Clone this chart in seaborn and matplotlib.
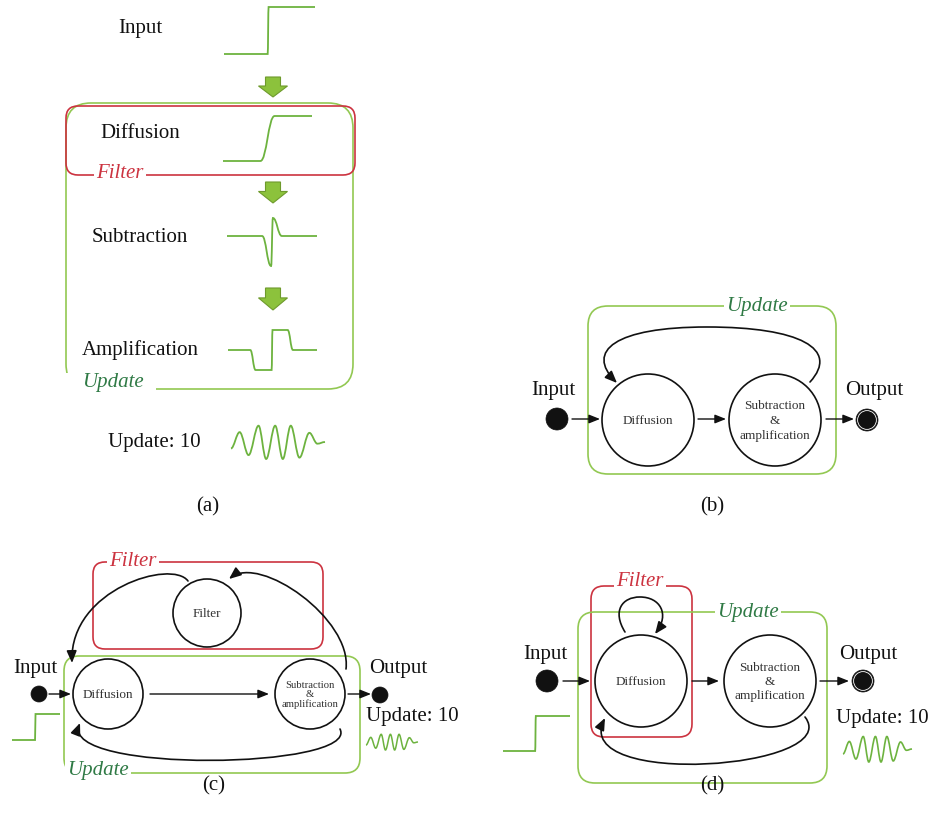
import matplotlib
matplotlib.use("Agg")
import matplotlib.pyplot as plt
import seaborn as sns
from matplotlib.patches import Circle, FancyBboxPatch, FancyArrowPatch, Polygon, PathPatch, Rectangle
from matplotlib.path import Path

sns.set_theme(style="white")
plt.rcParams['font.family'] = ['Liberation Serif', 'DejaVu Serif']

# Waveform knots (x normalised 0..1, y relative to baseline)
step_x = [0.0, 0.48, 0.49, 1.0]
step_y = [0.0, 0.0, 1.0, 1.0]
diffusion_x = [0.0, 0.42, 0.58, 1.0]
diffusion_y = [0.0, 0.0, 1.0, 1.0]
subtraction_x = [0.0, 0.39, 0.49, 0.51, 0.61, 1.0]
subtraction_y = [0.0, 0.0, -1.0, 0.6, 0.0, 0.0]
amplification_x = [0.0, 0.25, 0.31, 0.49, 0.50, 0.67, 0.73, 1.0]
amplification_y = [0.0, 0.0, -1.0, -1.0, 1.0, 1.0, 0.0, 0.0]
update_x = [0.0, 0.092, 0.187, 0.293, 0.374, 0.470, 0.551, 0.636, 0.728, 0.834, 0.919, 1.0]
update_y = [-0.38, 0.58, -0.77, 0.96, -1.0, 0.96, -1.0, 0.96, -0.92, 0.54, -0.1, 0.0]

stage_labels = ["Input", "Diffusion", "Subtraction", "Amplification"]
node_labels = ["Diffusion", "Subtraction\n&\namplification", "Filter"]
io_labels = ["Input", "Output", "Update: 10"]
box_labels = ["Filter", "Update"]
panel_labels = ["(a)", "(b)", "(c)", "(d)"]

GREEN_LINE = "#92c852"
WAVE = "#6db33f"
RED = "#cc3340"
DARK_GREEN = "#2f7a45"
ARROW_FILL = "#8cc23c"
ARROW_EDGE = "#6e9a2c"
INK = "#111111"

fig = plt.figure(figsize=(9.31, 8.29), dpi=100)
ax = fig.add_axes([0, 0, 1, 1])
ax.set_xlim(0, 931)
ax.set_ylim(829, 0)
ax.axis("off")


def wave(xs, ys, x0, base, w, h, lw=1.3, k=0.45):
    px = [x0 + x * w for x in xs]
    py = [base - y * h for y in ys]
    verts = [(px[0], py[0])]
    codes = [Path.MOVETO]
    for i in range(1, len(px)):
        dx = px[i] - px[i - 1]
        verts += [(px[i - 1] + k * dx, py[i - 1]), (px[i] - k * dx, py[i]), (px[i], py[i])]
        codes += [Path.CURVE4] * 3
    ax.add_patch(PathPatch(Path(verts, codes), fill=False, edgecolor=WAVE, lw=lw, zorder=2))


def block_arrow(cx, top, h):
    sw, hw = 7.5, 14.5
    neck = top + 0.45 * h
    pts = [(cx - sw, top), (cx + sw, top), (cx + sw, neck), (cx + hw, neck),
           (cx, top + h), (cx - hw, neck), (cx - sw, neck)]
    ax.add_patch(Polygon(pts, closed=True, facecolor=ARROW_FILL, edgecolor=ARROW_EDGE, lw=0.8))


def arrow(x1, x2, y):
    ax.add_patch(FancyArrowPatch((x1, y), (x2, y), arrowstyle="-|>,head_length=0.55,head_width=0.22",
                                 mutation_scale=12, color=INK, lw=1.0, shrinkA=0, shrinkB=0, zorder=3))


def curve(pts):
    codes = [Path.MOVETO] + [Path.CURVE4] * (len(pts) - 1)
    ax.add_patch(FancyArrowPatch(path=Path(pts, codes), arrowstyle="-|>,head_length=0.6,head_width=0.25",
                                 mutation_scale=12, color=INK, lw=1.2, zorder=3))


def box(x, y, w, h, r, color, lw=1.2):
    ax.add_patch(FancyBboxPatch((x, y), w, h, boxstyle=f"round,pad=0,rounding_size={r}",
                                fill=False, edgecolor=color, lw=lw, zorder=1))


def tag(x, y, s, color):
    ax.text(x, y, s, color=color, style="italic", fontsize=15, ha="center", va="center", zorder=5,
            bbox=dict(facecolor="white", edgecolor="none", pad=1.5))


def node(cx, cy, r, label, size, spacing=1.25):
    ax.add_patch(Circle((cx, cy), r, facecolor="white", edgecolor=INK, lw=1.2, zorder=2))
    ax.text(cx, cy, label, fontsize=size, ha="center", va="center", color="#333333",
            linespacing=spacing, zorder=4)


def dot(cx, cy, r, ring=False):
    ax.add_patch(Circle((cx, cy), r, facecolor=INK, edgecolor=INK, lw=0.5, zorder=2))
    if ring:
        ax.add_patch(Circle((cx, cy), r - 1.6, facecolor=INK, edgecolor="white", lw=0.6, zorder=2))


def label(x, y, s, size=15):
    ax.text(x, y, s, fontsize=size, ha="center", va="center", color=INK, zorder=4)


# ---------------- (a) ----------------
label(140, 28, stage_labels[0])
wave(step_x, step_y, 224, 55, 91, 47)
block_arrow(273, 78, 20)
box(66, 104, 287, 286, 25, GREEN_LINE)
box(66, 107, 289, 69, 12, RED)
tag(120, 173, box_labels[0], RED)
ax.add_patch(Rectangle((58, 374), 98, 22, facecolor="white", edgecolor="none", zorder=4))
tag(113, 382, box_labels[1], DARK_GREEN)
label(140, 133, stage_labels[1])
wave(diffusion_x, diffusion_y, 223, 162, 89, 45)
block_arrow(273, 183, 21)
label(140, 237, stage_labels[2])
wave(subtraction_x, subtraction_y, 227, 237, 90, 30)
block_arrow(273, 289, 22)
label(140, 350, stage_labels[3])
wave(amplification_x, amplification_y, 228, 351, 89, 20)
label(154, 442, io_labels[2])
wave(update_x, update_y, 231, 443, 94, 17, k=0.36)
label(208, 507, panel_labels[0])

# ---------------- (b) ----------------
box(588, 307, 248, 168, 20, GREEN_LINE)
tag(757, 306, box_labels[1], DARK_GREEN)
label(553, 391, io_labels[0])
dot(557, 420, 11)
arrow(572, 600, 420)
node(648, 421, 46, node_labels[0], 9.5)
arrow(698, 726, 420)
node(775, 421, 46, node_labels[1], 9.5, 1.28)
arrow(826, 854, 420)
dot(867, 421, 11, ring=True)
label(874, 391, io_labels[1])
curve([(810, 383), (840, 350), (800, 328), (707, 328),
       (615, 328), (585, 352), (617, 384)])
label(712, 507, panel_labels[1])

# ---------------- (c) ----------------
box(93, 563, 230, 87, 12, RED)
tag(133, 562, box_labels[0], RED)
node(207, 614, 34, node_labels[2], 9.5)
box(64, 657, 296, 117, 15, GREEN_LINE)
tag(98, 771, box_labels[1], DARK_GREEN)
label(35, 668, io_labels[0])
dot(39, 695, 8)
arrow(49, 71, 695)
node(108, 695, 35, node_labels[0], 9.5)
arrow(150, 269, 695)
node(310, 695, 35, node_labels[1], 7.7, 1.05)
arrow(348, 371, 695)
dot(380, 696, 8)
label(398, 668, io_labels[1])
label(412, 717, io_labels[2])
wave(update_x, update_y, 366, 743, 52, 8, lw=1.1, k=0.36)
wave(step_x, step_y, 12, 741, 48, 26)
curve([(188, 582), (172, 560), (70, 590), (72, 664)])
curve([(346, 670), (352, 620), (260, 555), (229, 580)])
curve([(340, 730), (360, 770), (60, 775), (80, 724)])
label(214, 786, panel_labels[2])

# ---------------- (d) ----------------
box(591, 587, 101, 151, 13, RED)
tag(640, 582, box_labels[0], RED)
box(578, 613, 249, 171, 17, GREEN_LINE)
tag(748, 612, box_labels[1], DARK_GREEN)
label(545, 654, io_labels[0])
dot(547, 682, 11)
arrow(563, 590, 682)
node(641, 682, 46, node_labels[0], 9.5)
arrow(692, 719, 682)
node(770, 682, 46, node_labels[1], 9.5, 1.25)
arrow(820, 849, 682)
dot(863, 682, 11, ring=True)
label(868, 654, io_labels[1])
label(882, 718, io_labels[2])
wave(update_x, update_y, 843, 750, 69, 13, lw=1.2, k=0.36)
wave(step_x, step_y, 503, 752, 67, 35)
curve([(625, 633), (612, 612), (622, 598), (640, 598),
       (660, 598), (670, 615), (655, 635)])
curve([(805, 718), (845, 770), (570, 790), (605, 719)])
label(712, 786, panel_labels[3])

fig.savefig("out.png", dpi=100)
